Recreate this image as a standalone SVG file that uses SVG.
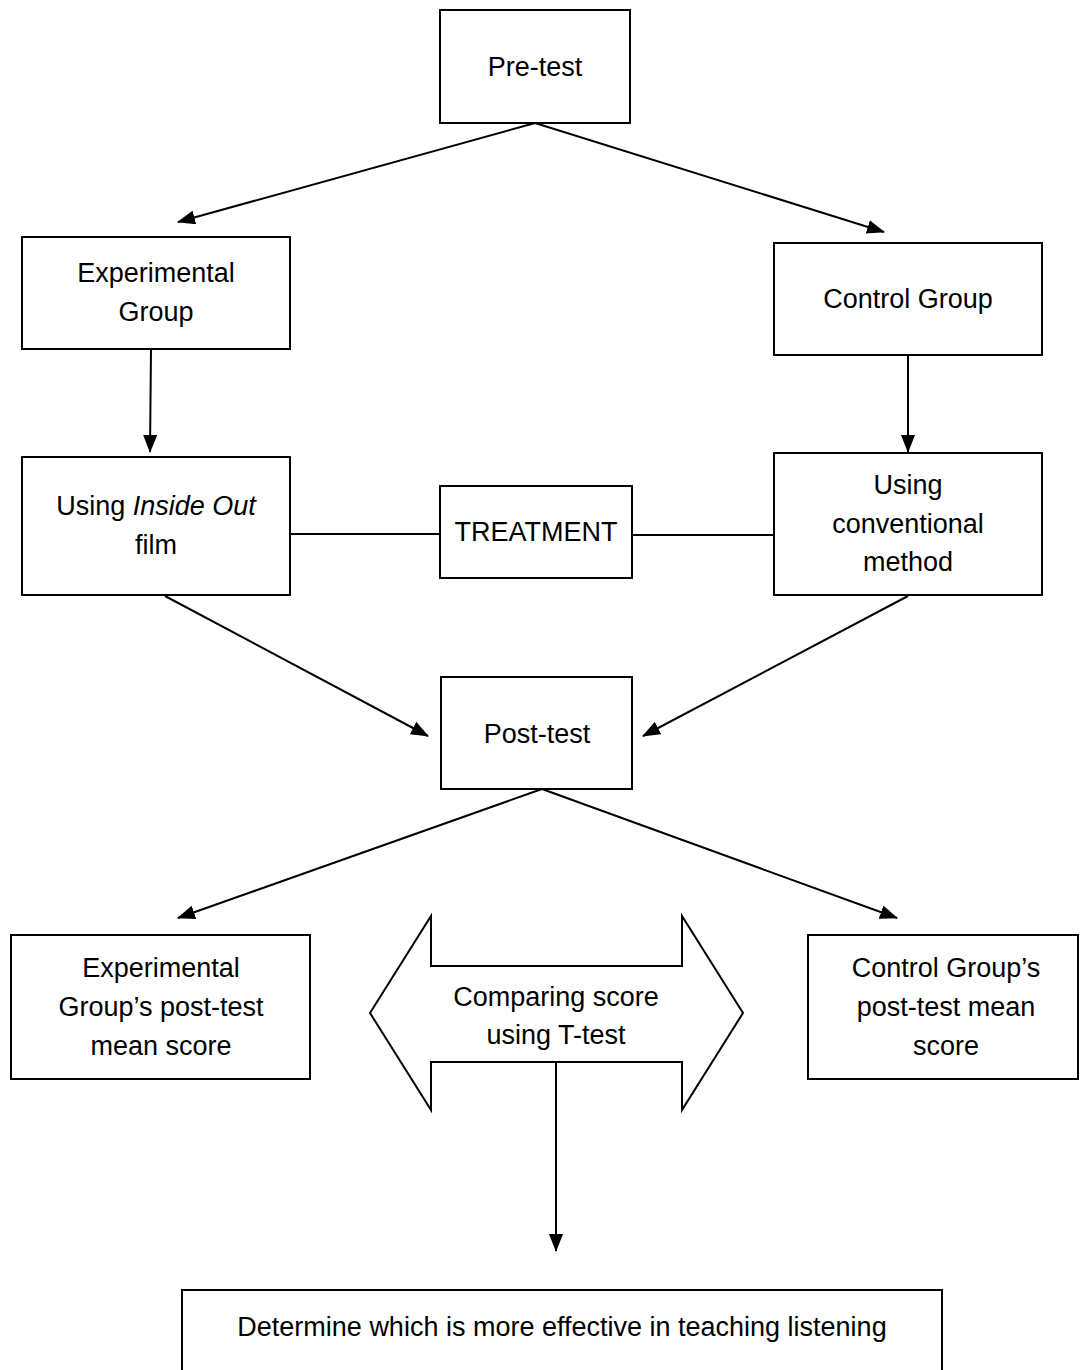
<svg xmlns="http://www.w3.org/2000/svg" width="1080" height="1370" viewBox="0 0 1080 1370">
<style>
.box{fill:#fff;stroke:#000;stroke-width:2}
.t{font-family:"Liberation Sans",Arial,sans-serif;font-size:27px;fill:#000;text-anchor:middle}
.c{stroke:#000;stroke-width:2;fill:none}
</style>
<defs>
<marker id="ah" markerWidth="18" markerHeight="14" refX="17" refY="7" orient="auto" markerUnits="userSpaceOnUse">
<path d="M0,0 L18,7 L0,14 Z" fill="#000"/>
</marker>
</defs>
<rect width="1080" height="1370" fill="#fff"/>
<g id="connectors">
<line class="c" x1="535" y1="123" x2="178" y2="222" marker-end="url(#ah)"/>
<line class="c" x1="535" y1="123" x2="884" y2="232" marker-end="url(#ah)"/>
<line class="c" x1="151" y1="349" x2="150" y2="452" marker-end="url(#ah)"/>
<line class="c" x1="908" y1="355" x2="908" y2="452" marker-end="url(#ah)"/>
<line class="c" x1="165" y1="596" x2="428" y2="736" marker-end="url(#ah)"/>
<line class="c" x1="908" y1="596" x2="643" y2="736" marker-end="url(#ah)"/>
<line class="c" x1="542" y1="789" x2="178" y2="918" marker-end="url(#ah)"/>
<line class="c" x1="542" y1="789" x2="897" y2="918" marker-end="url(#ah)"/>
<line class="c" x1="290" y1="534" x2="440" y2="534" stroke-width="1"/>
<line class="c" x1="632" y1="535" x2="774" y2="535" stroke-width="1"/>
<line class="c" x1="556" y1="1062" x2="556" y2="1251" marker-end="url(#ah)"/>
</g>
<g id="pretest"><rect class="box" x="440" y="10" width="190" height="113"/><text class="t" x="535" y="76">Pre-test</text></g>
<g id="expgroup"><rect class="box" x="22" y="237" width="268" height="112"/><text class="t" x="156" y="282">Experimental</text><text class="t" x="156" y="321">Group</text></g>
<g id="ctrlgroup"><rect class="box" x="774" y="243" width="268" height="112"/><text class="t" x="908" y="308">Control Group</text></g>
<g id="insideout"><rect class="box" x="22" y="457" width="268" height="138"/><text class="t" x="156" y="515">Using <tspan font-style="italic">Inside Out</tspan></text><text class="t" x="156" y="554">film</text></g>
<g id="treatment"><rect class="box" x="440" y="486" width="192" height="92"/><text class="t" x="536" y="541">TREATMENT</text></g>
<g id="conventional"><rect class="box" x="774" y="453" width="268" height="142"/><text class="t" x="908" y="494">Using</text><text class="t" x="908" y="533">conventional</text><text class="t" x="908" y="571">method</text></g>
<g id="posttest"><rect class="box" x="441" y="677" width="191" height="112"/><text class="t" x="537" y="743">Post-test</text></g>
<g id="expscore"><rect class="box" x="11" y="935" width="299" height="144"/><text class="t" x="161" y="977">Experimental</text><text class="t" x="161" y="1016">Group’s post-test</text><text class="t" x="161" y="1055">mean score</text></g>
<g id="ctrlscore"><rect class="box" x="808" y="935" width="270" height="144"/><text class="t" x="946" y="977">Control Group’s</text><text class="t" x="946" y="1016">post-test mean</text><text class="t" x="946" y="1055">score</text></g>
<g id="compare"><path class="box" d="M370,1013 L431,916 L431,966 L682,966 L682,916 L743,1013 L682,1110 L682,1062 L431,1062 L431,1110 Z"/><text class="t" x="556" y="1006">Comparing score</text><text class="t" x="556" y="1044">using T-test</text></g>
<g id="determine"><rect class="box" x="182" y="1290" width="760" height="90"/><text class="t" x="562" y="1336">Determine which is more effective in teaching listening</text></g>
</svg>
